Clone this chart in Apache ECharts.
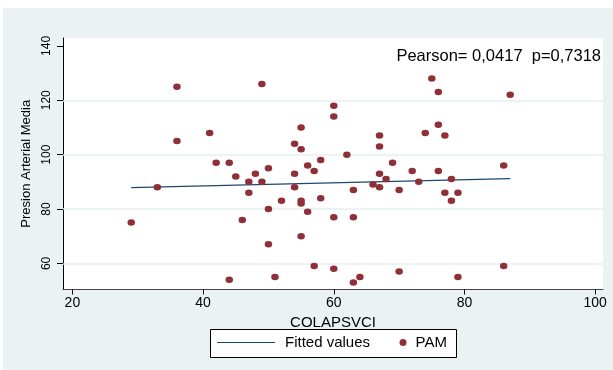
<!DOCTYPE html>
<html>
<head>
<meta charset="utf-8">
<script src="https://cdn.jsdelivr.net/npm/echarts@6/dist/echarts.min.js"></script>
<style>
html,body{margin:0;padding:0;background:#fff;}
#c{width:613px;height:370px;}
</style>
</head>
<body>
<div id="c"></div>
<script>
// COLAPSVCI (x) and PAM (y) values
var colapsvci = [29,33,36,36,41,42,44,44,45,46,47,47,48,49,49,50,50,50,51,52,54,54,54,55,55,55,55,55,56,56,57,57,58,58,60,60,60,60,62,63,63,63,64,66,67,67,67,67,68,69,70,70,72,73,74,75,76,76,76,77,77,78,78,79,79,86,86,87];
var pam       = [75,88,125,105,108,97,97,54,92,76,90,86,93,126,90,95,80,67,55,83,104,93,88,110,102,83,82,70,96,79,94,59,98,84,118,114,77,58,100,87,77,53,55,89,107,103,93,88,91,97,87,57,94,90,108,128,123,111,94,107,86,91,83,86,55,96,59,122];
// Fitted regression line endpoints
var fitX = [29, 87];
var fitY = [87.9, 91.2];
// Tick labels
var xTicks = [20, 40, 60, 80, 100];
var yTicks = [60, 80, 100, 120, 140];
var yGrid = [60, 80, 100, 120];
var annotation = 'Pearson= 0,0417  p=0,7318';

var FONT = '"Liberation Sans", Arial, Helvetica, sans-serif';
var chart = echarts.init(document.getElementById('c'), null, {renderer: 'canvas'});

var scatterData = colapsvci.map(function (x, i) { return [x, pam[i]]; });
var fitData = fitX.map(function (x, i) { return [x, fitY[i]]; });

chart.setOption({
  animation: false,
  backgroundColor: '#ffffff',
  textStyle: {fontFamily: FONT},
  graphic: [
    {type: 'rect', left: 3, top: 8, z: -100, shape: {width: 610, height: 362}, style: {fill: '#eaf2f3'}},
    {type: 'rect', left: 210, top: 329, z: 5, shape: {width: 246, height: 28}, style: {fill: '#ffffff', stroke: '#000000', lineWidth: 1}}
  ],
  title: {
    text: annotation,
    right: 12, top: 48, padding: 0,
    textStyle: {fontFamily: FONT, fontSize: 16.5, fontWeight: 'normal', color: '#000'}
  },
  legend: [
    {
      data: [{name: 'Fitted values', icon: 'rect'}], left: 217, top: 335, padding: 0, z: 10,
      itemWidth: 58, itemHeight: 1.2,
      textStyle: {fontFamily: FONT, fontSize: 15, color: '#000', padding: [0, 0, 0, 5]}
    },
    {
      data: [{name: 'PAM', icon: 'circle'}], left: 399.5, top: 335, padding: 0, z: 10,
      itemWidth: 7, itemHeight: 7,
      textStyle: {fontFamily: FONT, fontSize: 15, color: '#000', padding: [0, 0, 0, 4]}
    }
  ],
  grid: {left: 63, right: 10, top: 38, bottom: 80.5, show: true, backgroundColor: '#ffffff', borderWidth: 0},
  xAxis: {
    type: 'value', min: 18.56, max: 101.2,
    name: 'COLAPSVCI', nameLocation: 'middle', nameGap: 15,
    nameTextStyle: {fontFamily: FONT, fontSize: 15, color: '#000'},
    axisLine: {show: true, onZero: false, lineStyle: {color: '#444', width: 1}},
    axisTick: {show: true, length: 5, customValues: xTicks, lineStyle: {color: '#000'}},
    axisLabel: {customValues: xTicks, fontFamily: FONT, fontSize: 14, color: '#000', margin: 7},
    splitLine: {show: false}
  },
  yAxis: {
    type: 'value', min: 50.4, max: 142.9,
    name: 'Presion Arterial Media', nameLocation: 'middle', nameGap: 21,
    nameTextStyle: {fontFamily: FONT, fontSize: 13, color: '#000'},
    axisLine: {show: true, onZero: false, lineStyle: {color: '#000', width: 1}},
    axisTick: {show: true, length: 6, customValues: yTicks, lineStyle: {color: '#000'}},
    axisLabel: {customValues: yTicks, rotate: 90, fontFamily: FONT, fontSize: 12, color: '#000', margin: 10},
    splitLine: {show: false}
  },
  series: [
    {
      name: 'Fitted values', type: 'line', data: fitData,
      symbol: 'none', lineStyle: {color: '#1a476f', width: 1.2}, itemStyle: {color: '#1a476f'},
      z: 3,
      markLine: {
        silent: true, symbol: 'none', label: {show: false},
        lineStyle: {color: '#e6efef', width: 1.5, type: 'solid'},
        data: yGrid.map(function (v) { return {yAxis: v}; }),
        z: 1
      }
    },
    {
      name: 'PAM', type: 'scatter', data: scatterData,
      symbol: 'circle', symbolSize: [7.5, 6.5],
      itemStyle: {color: '#8f3038', opacity: 1},
      z: 4
    }
  ]
});
</script>
</body>
</html>
